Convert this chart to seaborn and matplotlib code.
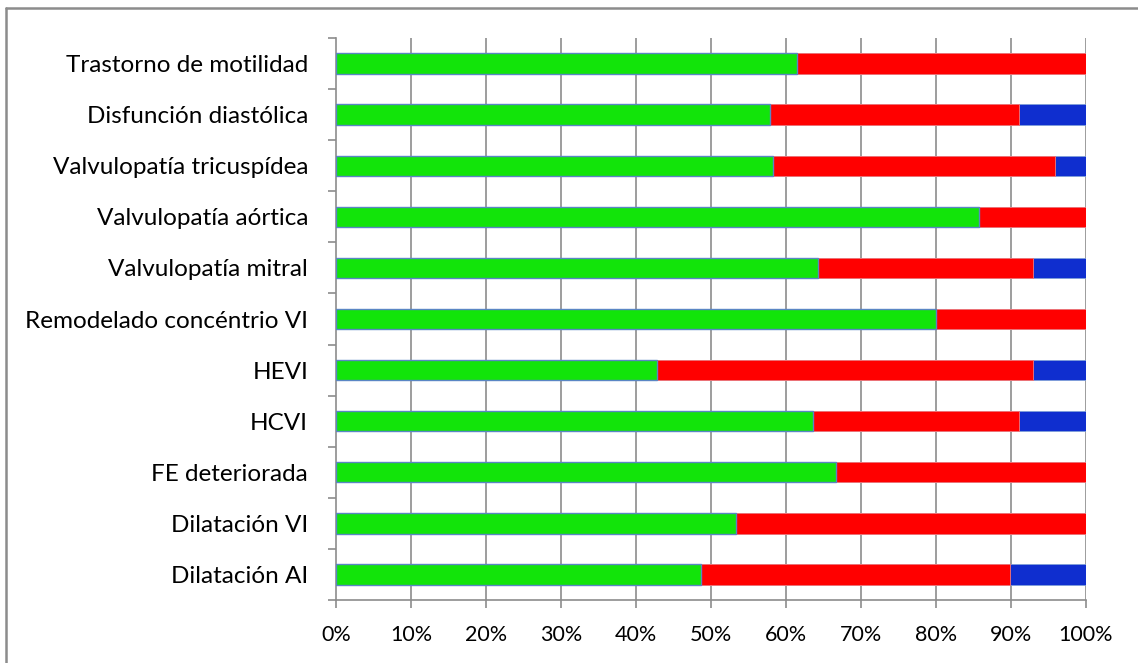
import matplotlib
matplotlib.use("Agg")
import matplotlib.pyplot as plt
from matplotlib.lines import Line2D
from matplotlib.ticker import FixedLocator, PercentFormatter
import numpy as np
import pandas as pd
import seaborn as sns

# Hallazgos ecocardiográficos (de arriba a abajo)
categorias = [
    "Trastorno de motilidad",
    "Disfunción diastólica",
    "Valvulopatía tricuspídea",
    "Valvulopatía aórtica",
    "Valvulopatía mitral",
    "Remodelado concéntrio VI",
    "HEVI",
    "HCVI",
    "FE deteriorada",
    "Dilatación VI",
    "Dilatación AI",
]
# Porcentaje de cada segmento por fila
verde = [61.5, 57.8, 58.3, 85.7, 64.3, 80.0, 42.8, 63.6, 66.7, 53.3, 48.7]
rojo = [38.5, 33.2, 37.5, 14.3, 28.6, 20.0, 50.1, 27.4, 33.3, 46.7, 41.1]
azul = [0.0, 9.0, 4.2, 0.0, 7.1, 0.0, 7.1, 9.0, 0.0, 0.0, 10.2]
ticks_x = [0, 10, 20, 30, 40, 50, 60, 70, 80, 90, 100]

df = pd.DataFrame({"categoria": categorias, "verde": verde, "rojo": rojo, "azul": azul})
df["hasta_rojo"] = df["verde"] + df["rojo"]
df["hasta_azul"] = df["hasta_rojo"] + df["azul"]

sns.set_theme(style="white")
plt.rcParams["font.family"] = ["Lato", "DejaVu Sans"]

fig = plt.figure(figsize=(11.38, 6.63), dpi=100)
ax = fig.add_axes([336 / 1138, 1 - 600 / 663, 750 / 1138, 562 / 663])

grid_col = "#8c8c8c"
for xv in ticks_x[1:]:
    ax.axvline(xv, color=grid_col, lw=1.2, zorder=0)

# Barras apiladas: cada capa cubre la suma acumulada
comunes = dict(data=df, y="categoria", orient="h", width=0.4, saturation=1, ax=ax)
sns.barplot(x="hasta_azul", color="#0f2ecf", edgecolor="#7f9fd8", linewidth=0.6,
            zorder=2, **comunes)
sns.barplot(x="hasta_rojo", color="#ff0000", edgecolor="#f47a7a", linewidth=0.6,
            zorder=3, **comunes)
sns.barplot(x="verde", color="#12e40a", edgecolor="#5a86c4", linewidth=1.0,
            zorder=4, **comunes)

ax.set_xlim(0, 100)
ax.set_ylim(len(categorias) - 0.5, -0.5)
ax.set_xlabel("")
ax.set_ylabel("")

ax.xaxis.set_major_locator(FixedLocator(ticks_x))
ax.xaxis.set_major_formatter(PercentFormatter(decimals=0))
ax.yaxis.set_minor_locator(FixedLocator(np.arange(-0.5, len(categorias), 1.0)))

for s in ["top", "right"]:
    ax.spines[s].set_visible(False)
for s in ["left", "bottom"]:
    ax.spines[s].set_color(grid_col)
    ax.spines[s].set_linewidth(1.2)

ax.tick_params(axis="y", which="major", length=0, pad=20, labelsize=17.5, labelcolor="black")
ax.tick_params(axis="y", which="minor", left=True, length=6, width=1.2, color=grid_col)
ax.tick_params(axis="x", which="major", bottom=True, length=6, width=1.2, color=grid_col,
               pad=12, labelsize=15.5, labelcolor="black")

# Marco gris del gráfico
fig.add_artist(Line2D([6 / 1138, 1], [1 - 8 / 663, 1 - 8 / 663], color="#8c8c8c", lw=1.8,
                      transform=fig.transFigure))
fig.add_artist(Line2D([6 / 1138, 6 / 1138], [0, 1 - 8 / 663], color="#8c8c8c", lw=1.8,
                      transform=fig.transFigure))

fig.savefig("out.png", dpi=100, facecolor="white")
